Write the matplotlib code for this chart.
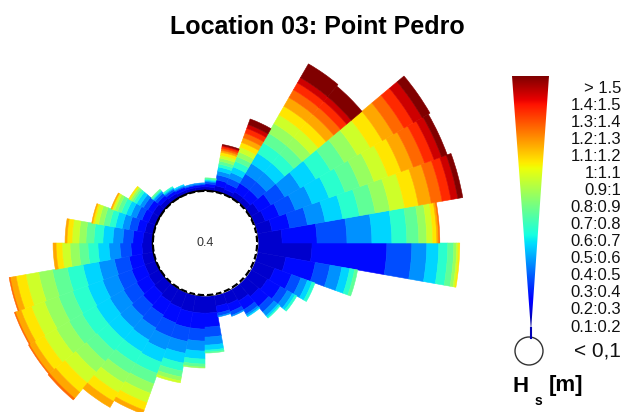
import numpy as np
import matplotlib
matplotlib.use("Agg")
import matplotlib.pyplot as plt
from matplotlib.patches import Polygon, Circle

plt.rcParams['font.family'] = ['Liberation Sans', 'DejaVu Sans']

# Wave rose data: direction sectors (deg, clockwise from north) and
# number of records per Hs class in each sector
directions = [5, 15, 25, 35, 45, 55, 65, 75, 85, 95, 105, 115,
              125, 135, 145, 155, 165, 175, 185, 195, 205, 215, 225, 235,
              245, 255, 265, 275, 285, 295, 305, 315, 325, 335, 345, 355]
sector_width = 10
calm_pct = 0.4

hs_labels = ['0.1:0.2', '0.2:0.3', '0.3:0.4', '0.4:0.5', '0.5:0.6', '0.6:0.7',
             '0.7:0.8', '0.8:0.9', '0.9:1', '1:1.1', '1.1:1.2', '1.2:1.3',
             '1.3:1.4', '1.4:1.5', '> 1.5']

hs_01_02 = [4, 6, 5, 7, 7, 10, 12, 16, 25, 55, 30, 22, 20, 18, 15, 13, 12, 18,
            18, 18, 17, 16, 14, 13, 12, 12, 11, 10, 9, 8, 8, 6, 5, 4, 4, 4]
hs_02_03 = [3, 6, 6, 10, 10, 14, 15, 18, 35, 75, 30, 18, 15, 13, 10, 8, 7, 14,
            16, 16, 16, 15, 15, 14, 14, 13, 11, 10, 8, 7, 6, 4, 3, 3, 2, 2]
hs_03_04 = [2, 5, 6, 11, 11, 16, 17, 18, 30, 25, 15, 10, 8, 7, 5, 4, 3, 10,
            12, 14, 15, 15, 15, 15, 15, 15, 11, 10, 8, 6, 5, 3, 2, 1, 1, 1]
hs_04_05 = [1, 4, 6, 12, 12, 18, 18, 18, 25, 15, 12, 7, 6, 5, 2, 1, 1, 8,
            10, 12, 14, 14, 15, 16, 16, 16, 11, 10, 7, 6, 4, 2, 1, 1, 1, 1]
hs_05_06 = [1, 4, 6, 12, 12, 18, 18, 18, 20, 12, 8, 5, 3, 2, 1, 0, 0, 5,
            8, 10, 13, 14, 15, 16, 16, 16, 11, 10, 7, 5, 4, 1, 1, 1, 0, 0]
hs_06_07 = [1, 3, 6, 12, 12, 17, 17, 17, 15, 9, 5, 3, 2, 1, 0, 0, 0, 2,
            5, 8, 12, 13, 15, 16, 16, 16, 10, 9, 6, 5, 3, 1, 1, 0, 0, 0]
hs_07_08 = [1, 3, 5, 11, 11, 16, 16, 16, 12, 6, 3, 0, 0, 0, 0, 0, 0, 1,
            3, 6, 11, 12, 14, 15, 15, 15, 9, 8, 6, 4, 2, 1, 0, 0, 0, 0]
hs_08_09 = [0, 3, 5, 11, 11, 15, 15, 15, 8, 3, 0, 0, 0, 0, 0, 0, 0, 0,
            1, 4, 10, 11, 14, 15, 15, 14, 9, 7, 5, 3, 2, 0, 0, 0, 0, 0]
hs_09_10 = [0, 3, 5, 10, 10, 15, 15, 15, 6, 2, 0, 0, 0, 0, 0, 0, 0, 0,
            0, 2, 10, 11, 14, 14, 14, 13, 8, 7, 4, 2, 1, 0, 0, 0, 0, 0]
hs_10_11 = [0, 3, 5, 10, 10, 14, 14, 14, 4, 1, 0, 0, 0, 0, 0, 0, 0, 0,
            0, 0, 8, 10, 12, 11, 11, 10, 6, 5, 2, 1, 1, 0, 0, 0, 0, 0]
hs_11_12 = [0, 2, 5, 10, 10, 13, 13, 13, 2, 0, 0, 0, 0, 0, 0, 0, 0, 0,
            0, 0, 4, 7, 8, 6, 6, 6, 3, 2, 1, 1, 0, 0, 0, 0, 0, 0]
hs_12_13 = [0, 2, 5, 9, 9, 12, 12, 11, 1, 0, 0, 0, 0, 0, 0, 0, 0, 0,
            0, 0, 0, 0, 2, 1, 1, 1, 0, 0, 0, 0, 0, 0, 0, 0, 0, 0]
hs_13_14 = [0, 2, 5, 8, 8, 11, 10, 9, 0, 0, 0, 0, 0, 0, 0, 0, 0, 0,
            0, 0, 0, 0, 0, 0, 0, 0, 0, 0, 0, 0, 0, 0, 0, 0, 0, 0]
hs_14_15 = [0, 1, 4, 6, 6, 10, 8, 7, 0, 0, 0, 0, 0, 0, 0, 0, 0, 0,
            0, 0, 0, 0, 0, 0, 0, 0, 0, 0, 0, 0, 0, 0, 0, 0, 0, 0]
hs_15_up = [0, 1, 6, 16, 14, 9, 6, 5, 0, 0, 0, 0, 0, 0, 0, 0, 0, 0,
            0, 0, 0, 0, 0, 0, 0, 0, 0, 0, 0, 0, 0, 0, 0, 0, 0, 0]

counts = np.array([hs_01_02, hs_02_03, hs_03_04, hs_04_05, hs_05_06, hs_06_07,
                   hs_07_08, hs_08_09, hs_09_10, hs_10_11, hs_11_12, hs_12_13,
                   hs_13_14, hs_14_15, hs_15_up], dtype=float)
pct = counts / counts.sum() * (100 - calm_pct)

# layout: figure in pixels, rose centre / calm circle
W, H = 641, 412
cx, cy = 205, 243
px_per_pct = 33.0
r_calm = 1.58          # radius of calm circle in rose units
r_max = 8.5
R_px = r_max * px_per_pct

fig = plt.figure(figsize=(W / 100, H / 100), dpi=100)
ax = fig.add_axes([(cx - R_px) / W, (H - cy - R_px) / H, 2 * R_px / W, 2 * R_px / H],
                  projection='polar')
ax.set_theta_zero_location('N')
ax.set_theta_direction(-1)

cmap = plt.get_cmap('jet')
n_bins = len(hs_labels)
bin_colors = [cmap(0.07 + 0.93 * j / (n_bins - 1)) for j in range(n_bins)]
theta = np.deg2rad(directions)
width = np.deg2rad(sector_width)
bottom = np.full(len(directions), r_calm)
for j in range(n_bins):
    col = bin_colors[j]
    h = pct[j]
    mask = h > 0
    ax.bar(theta[mask], h[mask], width=width, bottom=bottom[mask],
           color=col, edgecolor=col, linewidth=0.4)
    bottom = bottom + h

# calm circle
tt = np.linspace(0, 2 * np.pi, 361)
ax.fill_between(tt, 0, r_calm, color='white', zorder=3)
ax.plot(tt, np.full_like(tt, r_calm), color='black', lw=1.6, zorder=4)
edges = np.deg2rad(np.array(directions) - sector_width / 2)
ax.plot(edges, np.full_like(edges, r_calm * 0.97), 'o', color='white',
        ms=1.2, zorder=5)
ax.text(0, 0, f'{calm_pct:g}', ha='center', va='center', fontsize=9,
        color='#333333', zorder=6)
ax.set_rlim(0, r_max)
ax.set_axis_off()

# legend drawn in pixel coordinates
lg = fig.add_axes([0, 0, 1, 1], facecolor='none')
grad = np.linspace(0, 1, 256).reshape(-1, 1)
im = lg.imshow(grad, cmap=cmap, extent=(512, 549, 331, 76), origin='lower',
               aspect='auto')
tri = Polygon([(512, 76), (549, 76), (531, 331)], closed=True,
              transform=lg.transData, facecolor='none', edgecolor='none')
lg.add_patch(tri)
im.set_clip_path(tri)
lg.plot([531, 531], [328, 338], color=cmap(0.05), lw=1.5)
lg.add_patch(Circle((529, 351), 14, facecolor='white', edgecolor='#333333', lw=1))

y_top, y_bot = 88, 327
ys = np.linspace(y_bot, y_top, n_bins)
for lab, y in zip(hs_labels, ys):
    lg.text(621, y, lab, ha='right', va='center', fontsize=12, color='#111111')
lg.text(621, 351, '< 0,1', ha='right', va='center', fontsize=15, color='#111111')
lg.text(513, 386, 'H', ha='left', va='center', fontsize=16, fontweight='bold')
lg.text(535, 401, 's', ha='left', va='center', fontsize=10, fontweight='bold')
lg.text(549, 386, '[m]', ha='left', va='center', fontsize=16, fontweight='bold')

lg.text(317, 27, 'Location 03: Point Pedro', ha='center', va='center',
        fontsize=18, fontweight='bold')

lg.set_xlim(0, W)
lg.set_ylim(H, 0)
lg.set_axis_off()

fig.savefig('out.png', dpi=100)
